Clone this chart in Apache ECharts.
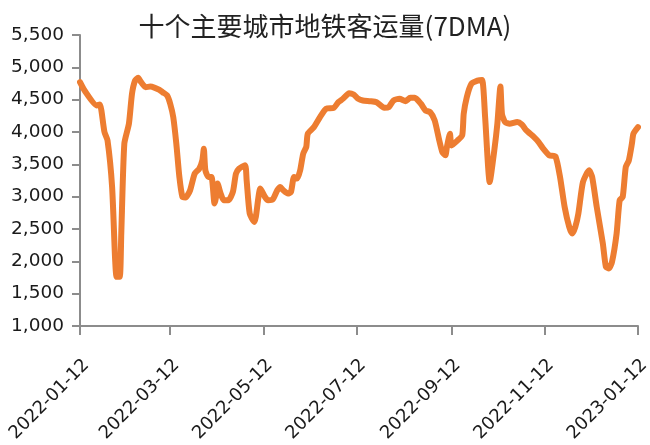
<!DOCTYPE html>
<html>
<head>
<meta charset="utf-8">
<script src="https://cdn.jsdelivr.net/npm/echarts@6/dist/echarts.min.js"></script>
<style>
  html, body { margin: 0; padding: 0; background: #fff; }
  #chart { width: 650px; height: 445px; }
</style>
</head>
<body>
<div id="chart"></div>
<script>
// dates (irregular, one per visible turn of the line)
let dates = [
    '2022-01-12','2022-01-15','2022-01-23','2022-01-25','2022-01-26','2022-01-28','2022-01-30',
    '2022-02-02','2022-02-04','2022-02-05','2022-02-07','2022-02-08','2022-02-10','2022-02-13',
    '2022-02-15','2022-02-17','2022-02-19','2022-02-21','2022-02-24','2022-02-27','2022-03-02',
    '2022-03-05','2022-03-07','2022-03-10','2022-03-12','2022-03-14','2022-03-16','2022-03-18',
    '2022-03-20','2022-03-22','2022-03-25','2022-03-28','2022-03-31','2022-04-02','2022-04-03',
    '2022-04-04','2022-04-06','2022-04-08','2022-04-10','2022-04-11','2022-04-12','2022-04-14',
    '2022-04-16','2022-04-19','2022-04-22','2022-04-24','2022-04-26','2022-04-30','2022-05-01',
    '2022-05-03','2022-05-06','2022-05-07','2022-05-10','2022-05-13','2022-05-15','2022-05-18',
    '2022-05-21','2022-05-23','2022-05-25','2022-05-28','2022-05-30','2022-06-01','2022-06-03',
    '2022-06-05','2022-06-07','2022-06-09','2022-06-10','2022-06-14','2022-06-18','2022-06-22',
    '2022-06-27','2022-06-30','2022-07-03','2022-07-07','2022-07-10','2022-07-13','2022-07-16',
    '2022-07-21','2022-07-25','2022-07-30','2022-08-02','2022-08-05','2022-08-09','2022-08-13',
    '2022-08-16','2022-08-19','2022-08-23','2022-08-26','2022-08-29','2022-09-01','2022-09-04',
    '2022-09-06','2022-09-08','2022-09-09','2022-09-11','2022-09-12','2022-09-16','2022-09-19',
    '2022-09-20','2022-09-22','2022-09-25','2022-09-29','2022-10-02','2022-10-04','2022-10-07',
    '2022-10-10','2022-10-12','2022-10-14','2022-10-15','2022-10-17','2022-10-20','2022-10-25',
    '2022-10-28','2022-10-31','2022-11-05','2022-11-08','2022-11-11','2022-11-15','2022-11-19',
    '2022-11-22','2022-11-25','2022-11-28','2022-11-30','2022-12-02','2022-12-04','2022-12-07',
    '2022-12-11','2022-12-13','2022-12-16','2022-12-20','2022-12-22','2022-12-24','2022-12-26',
    '2022-12-29','2022-12-31','2023-01-02','2023-01-04','2023-01-06','2023-01-08','2023-01-09',
    '2023-01-12'
];

let ridership = [
    4770, 4640, 4410, 4425, 4333, 4000, 3870,
    3150, 2018, 1760, 1760, 2430, 3820, 4128,
    4590, 4795, 4837, 4770, 4693, 4703, 4683,
    4652, 4615, 4564, 4436, 4230, 3820, 3305,
    2995, 2986, 3098, 3355, 3433, 3561, 3742,
    3407, 3305, 3305, 2893, 2995, 3202, 3048,
    2944, 2944, 3073, 3356, 3433, 3485, 3253,
    2740, 2610, 2687, 3125, 2995, 2944, 2955,
    3098, 3150, 3098, 3048, 3073, 3305, 3279,
    3407, 3665, 3768, 3973, 4075, 4230, 4359,
    4374, 4461, 4513, 4600, 4580, 4513, 4487,
    4477, 4461, 4374, 4385, 4487, 4513, 4477,
    4528, 4528, 4436, 4333, 4307, 4179, 3870,
    3690, 3639, 3768, 3973, 3792, 3870, 3947,
    4282, 4539, 4745, 4795, 4806, 4230, 3227,
    3716, 4128, 4703, 4282, 4154, 4128, 4154,
    4117, 4024, 3921, 3844, 3742, 3639, 3623,
    3305, 2842, 2533, 2430, 2533, 2740, 3227,
    3407, 3305, 2842, 2276, 1915, 1890, 1992,
    2430, 2944, 2995, 3458, 3561, 3818, 3973,
    4075
];

let tickDates = ['2022-01-12','2022-03-12','2022-05-12','2022-07-12','2022-09-12','2022-11-12','2023-01-12'];

let titleText = '十个主要城市地铁客运量(7DMA)';

(function(){
    // dates -> UTC ms, drawn on a plain value axis so the ticks can sit on exact dates
    let ts = function(d){ return Date.parse(d + 'T00:00:00Z'); };
    let tickValues = tickDates.map(ts);
    let seriesData = dates.map(function(d, i){ return [ts(d), ridership[i]]; });

    let axisColor = '#8c8c8c';
    let textColor = '#1a1a1a';
    let labelFont = '"DejaVu Sans", sans-serif';

    let option = {
        animation: false,
        title: {
            text: titleText,
            left: 'center',
            top: 8,
            textStyle: {
                fontFamily: '"Noto Sans CJK SC", sans-serif',
                fontSize: 26,
                fontWeight: 'normal',
                color: '#222'
            }
        },
        grid: {
            left: 80,
            right: 12,
            top: 35,
            bottom: 119,
            containLabel: false,
            outerBoundsMode: 'none'
        },
        xAxis: {
            type: 'value',
            min: tickValues[0],
            max: tickValues[tickValues.length - 1],
            axisLine: { show: true, lineStyle: { color: axisColor, width: 2 } },
            axisTick: {
                show: true,
                length: 9,
                customValues: tickValues,
                lineStyle: { color: axisColor, width: 2 }
            },
            axisLabel: {
                customValues: tickValues,
                rotate: 45,
                margin: 30,
                verticalAlign: 'top',
                fontSize: 18,
                fontFamily: labelFont,
                color: textColor,
                formatter: function(val){
                    return new Date(val).toISOString().slice(0, 10);
                }
            },
            splitLine: { show: false }
        },
        yAxis: {
            type: 'value',
            min: 1000,
            max: 5500,
            interval: 500,
            axisLine: { show: true, lineStyle: { color: axisColor, width: 2 } },
            axisTick: { show: true, length: 8, lineStyle: { color: axisColor, width: 2 } },
            axisLabel: {
                margin: 16,
                fontSize: 18.5,
                fontFamily: labelFont,
                color: textColor,
                formatter: function(val){
                    return val.toLocaleString('en-US');
                }
            },
            splitLine: { show: false }
        },
        series: [
            {
                name: titleText,
                type: 'line',
                data: seriesData,
                showSymbol: false,
                smooth: 0.2,
                lineStyle: { color: '#ED7D31', width: 6, join: 'round', cap: 'round' },
                itemStyle: { color: '#ED7D31' }
            }
        ]
    };

    let chart = echarts.init(document.getElementById('chart'));
    chart.setOption(option);
})();
</script>
</body>
</html>
